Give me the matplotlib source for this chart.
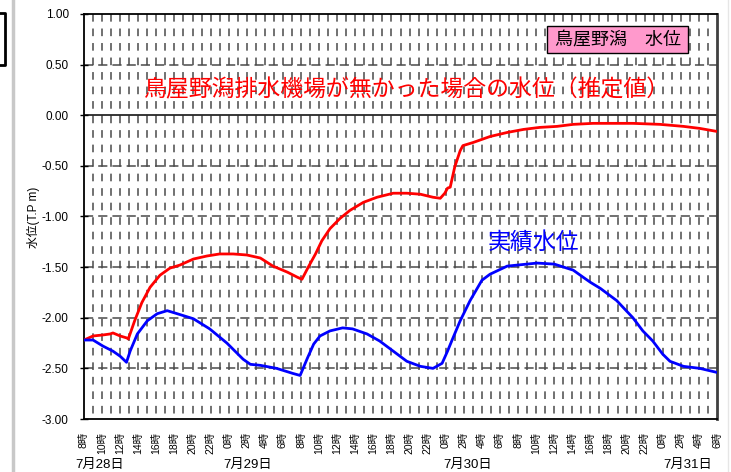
import matplotlib
matplotlib.use("Agg")
import matplotlib.pyplot as plt
from matplotlib.patches import Rectangle
from matplotlib.lines import Line2D

plt.rcParams['font.family'] = ['Liberation Sans', 'Noto Sans CJK JP', 'DejaVu Sans']

# hours after 7/28 8:00
red_h = [0, 1.0, 2.1, 2.9, 3.2, 4.0, 4.75, 4.9, 5.6, 6.4, 7.3, 8.4, 9.5, 10.6, 12.1, 13.6, 15.0,
         16.5, 18.0, 19.5, 20.9, 22.5, 23.6, 24.1, 24.8, 25.6, 26.3, 27.2, 28.3, 29.4, 30.9,
         32.4, 34.2, 35.7, 37.2, 38.6, 39.4, 39.9, 40.2, 40.5, 41.0, 41.6, 41.9, 43.0, 44.9,
         46.8, 48.6, 50.4, 52.3, 54.1, 56.3, 59.3, 60.7, 63.7, 66.3, 68.1, 70.0]
red_v = [-2.22, -2.18, -2.17, -2.16, -2.15, -2.18, -2.20, -2.21, -2.03, -1.85, -1.70, -1.58,
         -1.51, -1.48, -1.42, -1.39, -1.37, -1.37, -1.38, -1.41, -1.49, -1.55, -1.60, -1.62,
         -1.50, -1.37, -1.24, -1.12, -1.02, -0.94, -0.86, -0.81, -0.77, -0.77, -0.78, -0.81,
         -0.82, -0.77, -0.72, -0.71, -0.51, -0.35, -0.30, -0.27, -0.21, -0.17, -0.14, -0.12,
         -0.11, -0.09, -0.08, -0.08, -0.08, -0.09, -0.11, -0.13, -0.16]

blue_h = [0, 1.0, 2.1, 3.2, 4.0, 4.7, 5.1, 5.9, 7.0, 8.1, 9.2, 10.3, 12.1, 13.9, 15.8, 17.6,
          18.4, 19.5, 21.3, 23.1, 23.9, 24.7, 25.4, 26.1, 27.2, 28.6, 29.7, 31.3, 32.7, 34.2,
          35.7, 37.2, 38.6, 39.6, 40.2, 40.8, 41.6, 42.7, 44.0, 44.9, 46.8, 50.1, 52.0, 54.1,
          55.2, 56.0, 57.1, 58.9, 60.7, 61.8, 62.9, 64.0, 64.8, 66.3, 68.1, 70.0]
blue_v = [-2.22, -2.22, -2.28, -2.33, -2.38, -2.44, -2.33, -2.16, -2.03, -1.96, -1.93, -1.96,
          -2.01, -2.11, -2.25, -2.41, -2.46, -2.47, -2.50, -2.55, -2.57, -2.40, -2.26, -2.18,
          -2.13, -2.10, -2.11, -2.16, -2.23, -2.33, -2.43, -2.48, -2.50, -2.45, -2.33, -2.20,
          -2.03, -1.83, -1.63, -1.57, -1.49, -1.46, -1.47, -1.53, -1.60, -1.65, -1.71, -1.83,
          -2.00, -2.13, -2.23, -2.36, -2.43, -2.48, -2.50, -2.54]

xtick_h = list(range(0, 71, 2))
xtick_labels = [f"{(8 + h) % 24}時" for h in xtick_h]
ytick_vals = [1.0, 0.5, 0.0, -0.5, -1.0, -1.5, -2.0, -2.5, -3.0]
date_labels = ["7月28日", "7月29日", "7月30日", "7月31日"]

W, H = 731, 472
fig = plt.figure(figsize=(W / 100, H / 100), dpi=100)
fig.patch.set_facecolor('white')
ax = fig.add_axes([84 / W, 1 - 419 / H, (717 - 84) / W, (419 - 14) / H])
ax.set_xlim(0, 70)
ax.set_ylim(-3.0, 1.0)

# grid
for h in range(1, 70):
    ax.plot([h, h], [1.0, -3.0], color='#4a4a4a', lw=1.1, ls=(0, (5, 4.5)), zorder=1)
for v in ytick_vals[1:-1]:
    if v == 0.0:
        ax.axhline(0.0, color='black', lw=1.1, zorder=1.5)
    else:
        ax.plot([0, 70], [v, v], color='#4a4a4a', lw=1.1, ls=(0, (6, 3.3)), zorder=1)

ax.plot(red_h, red_v, color='#FF0000', lw=2.0, zorder=3)
ax.plot(blue_h, blue_v, color='#0000FF', lw=2.0, zorder=3)

ax.set_yticks(ytick_vals)
ax.set_yticklabels([f"{v:.2f}" for v in ytick_vals], fontsize=8.5)
ax.tick_params(axis='y', direction='inout', length=6, width=1, pad=8)
ax.set_xticks(xtick_h)
ax.set_xticklabels(xtick_labels, rotation=90, fontsize=7.5)
ax.tick_params(axis='x', length=0, pad=9)

for s in ['left', 'bottom', 'top']:
    ax.spines[s].set_color('black')
    ax.spines[s].set_linewidth(1.3)
ax.spines['right'].set_color('#404040')
ax.spines['right'].set_linewidth(2.0)

# annotations
fig.text(407 / W, 1 - 90 / H, "鳥屋野潟排水機場が無かった場合の水位（推定値）", color='#FF0000',
         fontsize=16.5, ha='center', va='center', family=['Noto Sans CJK JP'])
fig.text(534 / W, 1 - 242 / H, "実績水位", color='#0000FF',
         fontsize=16.5, ha='center', va='center', family=['Noto Sans CJK JP'])
fig.patches.append(Rectangle((547 / W, 1 - 53 / H), 141 / W, 27 / H, transform=fig.transFigure,
                             facecolor='#FF99CC', edgecolor='black', lw=1.0, zorder=5))
fig.text(618 / W, 1 - 40 / H, "鳥屋野潟　水位", color='black', fontsize=13,
         ha='center', va='center', family=['Noto Sans CJK JP'], zorder=6)

fig.text(33 / W, 1 - 217 / H, "水位(T.P m)", rotation=90, fontsize=8.5,
         ha='center', va='center')

for lab, xc in zip(date_labels, [100, 248, 468, 688]):
    fig.text(xc / W, 1 - 465 / H, lab, fontsize=9.5, ha='center', va='center')

# screenshot edge artifacts
fig.lines.append(Line2D([12.5 / W, 12.5 / W], [0, 1], transform=fig.transFigure,
                        color='#C8C8C8', lw=2.5))
fig.lines.append(Line2D([0, 5 / W, 5 / W, 0], [1 - 13 / H, 1 - 13 / H, 1 - 65 / H, 1 - 65 / H],
                        transform=fig.transFigure, color='black', lw=2.0))
fig.lines.append(Line2D([728 / W, 728 / W], [0, 1], transform=fig.transFigure,
                        color='#E6E6E6', lw=1.0))

fig.savefig("out.png", dpi=100)
